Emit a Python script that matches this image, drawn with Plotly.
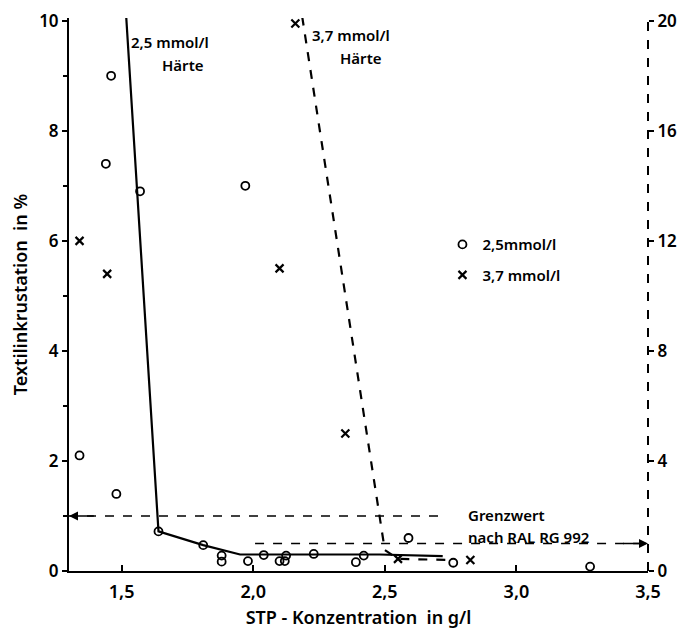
import plotly.graph_objects as go

# --- data ---
conc_25 = [1.46, 1.44, 1.57, 1.97, 1.34, 1.48, 1.64, 1.81, 1.88, 1.88, 1.98, 2.04,
           2.10, 2.12, 2.125, 2.23, 2.39, 2.42, 2.59, 2.76, 3.28]
ink_25 = [9.0, 7.4, 6.9, 7.0, 2.1, 1.4, 0.72, 0.47, 0.28, 0.17, 0.18, 0.29,
          0.18, 0.18, 0.28, 0.31, 0.16, 0.28, 0.6, 0.15, 0.08]

conc_37 = [1.34, 1.445, 2.16, 2.10, 2.35, 2.55, 2.825]
ink_37 = [12.0, 10.8, 19.9, 11.0, 5.0, 0.44, 0.4]   # right axis scale

fit_25_x = [1.517, 1.64, 1.81, 1.95, 2.48, 2.72]
fit_25_y = [10.1, 0.72, 0.47, 0.3, 0.3, 0.27]

fit_37_x = [2.186, 2.50, 2.55, 2.76]
fit_37_y = [20.15, 0.76, 0.44, 0.4]

grenzwert = 1.0
grenz_left_x = [1.30, 2.71]
grenz_right_x = [2.007, 3.5]

x_ticks = [1.5, 2.0, 2.5, 3.0, 3.5]
x_ticktext = ["1,5", "2,0", "2,5", "3,0", "3,5"]
y_ticks = [0, 2, 4, 6, 8, 10]
y2_ticks = [0, 4, 8, 12, 16, 20]

FONT = "Noto Sans"
BLACK = "black"
W = 600

fig = go.Figure()

# fitted curves
fig.add_trace(go.Scatter(x=fit_25_x, y=fit_25_y, mode="lines",
                         line=dict(color=BLACK, width=2.2), showlegend=False,
                         hoverinfo="skip"))
fig.add_trace(go.Scatter(x=fit_37_x, y=fit_37_y, mode="lines", yaxis="y2",
                         line=dict(color=BLACK, width=2.2, dash="dash"),
                         showlegend=False, hoverinfo="skip"))

# Grenzwert lines
fig.add_trace(go.Scatter(x=grenz_left_x, y=[grenzwert, grenzwert], mode="lines",
                         line=dict(color=BLACK, width=1.5, dash="dash"),
                         showlegend=False, hoverinfo="skip"))
fig.add_trace(go.Scatter(x=grenz_right_x, y=[grenzwert, grenzwert], mode="lines",
                         yaxis="y2",
                         line=dict(color=BLACK, width=1.5, dash="dash"),
                         showlegend=False, hoverinfo="skip"))

# data points
fig.add_trace(go.Scatter(x=conc_25, y=ink_25, mode="markers", name="2,5mmol/l",
                         legendgroup="a", cliponaxis=False,
                         marker=dict(symbol="circle-open", size=8, color=BLACK,
                                     line=dict(width=1.8, color=BLACK))))
fig.add_trace(go.Scatter(x=conc_37, y=ink_37, mode="markers", name="3,7 mmol/l",
                         yaxis="y2", legendgroup="b", cliponaxis=False,
                         marker=dict(symbol="x-thin-open", size=8, color=BLACK,
                                     line=dict(width=2.2, color=BLACK))))

# arrows at the Grenzwert lines
fig.add_annotation(x=1.30, y=grenzwert, xref="x", yref="y",
                   ax=1.40, ay=grenzwert, axref="x", ayref="y",
                   showarrow=True, arrowhead=2, arrowsize=1.2, arrowwidth=1.5,
                   arrowcolor=BLACK, text="")
fig.add_annotation(x=3.5, y=grenzwert, xref="x", yref="y2",
                   ax=3.40, ay=grenzwert, axref="x", ayref="y2",
                   showarrow=True, arrowhead=2, arrowsize=1.2, arrowwidth=1.5,
                   arrowcolor=BLACK, text="")

tfont = dict(family=FONT, size=15, color=BLACK, weight=W)
fig.add_annotation(x=1.684, y=9.62, text="2,5 mmol/l", showarrow=False, font=tfont)
fig.add_annotation(x=1.733, y=9.2, text="Härte", showarrow=False, font=tfont)
fig.add_annotation(x=2.37, y=9.75, text="3,7 mmol/l", showarrow=False, font=tfont)
fig.add_annotation(x=2.41, y=9.33, text="Härte", showarrow=False, font=tfont)
fig.add_annotation(x=2.81, y=1.02, text="Grenzwert", showarrow=False,
                   xanchor="left", font=tfont)
fig.add_annotation(x=2.81, y=0.62, text="nach RAL RG 992", showarrow=False,
                   xanchor="left", font=tfont)

# dashed right axis
fig.add_shape(type="line", xref="paper", yref="paper", x0=1, x1=1, y0=0, y1=1,
              line=dict(color=BLACK, width=2, dash="dash"))

fig.update_layout(
    width=686, height=627,
    margin=dict(l=61, r=46, t=10, b=64),
    paper_bgcolor="white", plot_bgcolor="white",
    font=dict(family=FONT, size=16, color=BLACK, weight=W),
    showlegend=True,
    legend=dict(x=0.645, y=0.62, xanchor="left", yanchor="top",
                bgcolor="rgba(0,0,0,0)", font=dict(family=FONT, size=15, weight=W),
                traceorder="grouped", tracegroupgap=8, itemwidth=30),
    xaxis=dict(range=[1.3, 3.5], showline=True, linecolor=BLACK, linewidth=2,
               showgrid=False, zeroline=False, ticks="inside", ticklen=6,
               tickwidth=1.5, tickcolor=BLACK, tickvals=x_ticks, automargin=False,
               ticktext=x_ticktext, tickfont=dict(size=18, weight=W),
               ticklabelstandoff=3, ticklabeloverflow="allow",
               title=dict(text="STP - Konzentration  in g/l",
                          font=dict(size=18, weight=W), standoff=10)),
    yaxis=dict(range=[0, 10.05], showline=True, linecolor=BLACK, linewidth=2,
               showgrid=False, zeroline=False, ticks="outside", ticklen=5,
               tickwidth=1.5, tickcolor=BLACK, tickvals=y_ticks, automargin=False,
               tickfont=dict(size=17, weight=W), ticklabeloverflow="allow",
               minor=dict(dtick=1, ticks="outside", ticklen=4, tickcolor=BLACK),
               title=dict(text="Textilinkrustation  in %",
                          font=dict(size=18, weight=W), standoff=14)),
    yaxis2=dict(range=[0, 20.1], overlaying="y", side="right", showline=False,
                showgrid=False, zeroline=False, ticks="outside", ticklen=5,
                tickwidth=1.5, tickcolor=BLACK, tickvals=y2_ticks, automargin=False,
                tickfont=dict(size=17, weight=W), ticklabeloverflow="allow"),
)

fig.write_html("out.html")
